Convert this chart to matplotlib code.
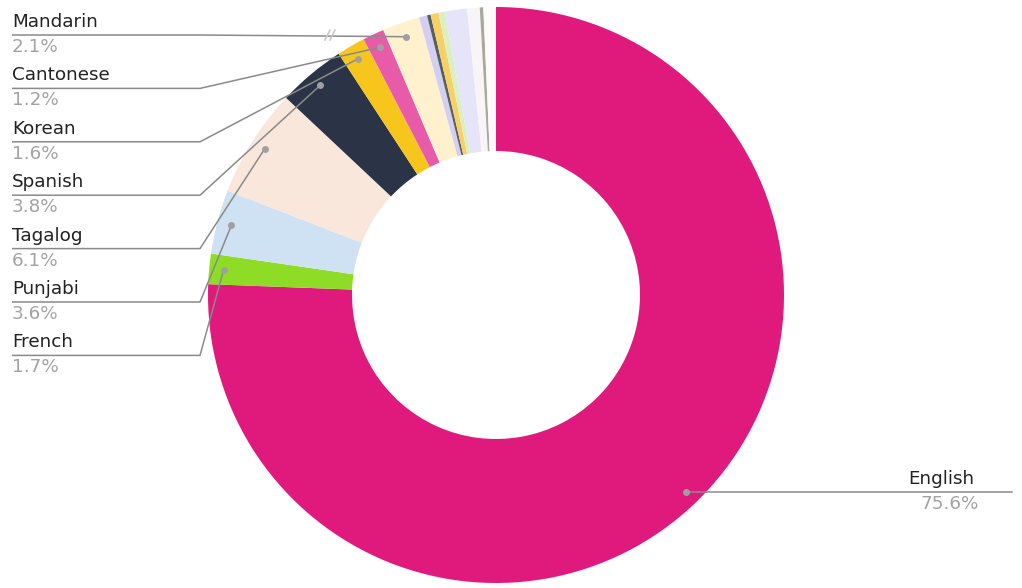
import numpy as np
import matplotlib
matplotlib.use("Agg")
import matplotlib.pyplot as plt

# mother tongue shares, clockwise from 12 o'clock
languages = ["English", "French", "Punjabi", "Tagalog", "Spanish", "Korean",
             "Cantonese", "Mandarin", "Persian", "Russian", "Hindi",
             "Vietnamese", "German", "Italian", "Polish", "Other"]
shares = [75.6, 1.7, 3.6, 6.1, 3.8, 1.6, 1.2, 2.1,
          0.45, 0.2, 0.45, 0.35, 1.25, 0.7, 0.2, 0.7]
colors = ["#e0197d", "#8edc26", "#cfe2f3", "#f9e7dc", "#2b3447", "#f6c61d",
          "#e85ba8", "#fff1cd", "#d2cff2", "#56605f", "#f7d067", "#daf0c1",
          "#e6e4f8", "#f8f4f7", "#aaa9a0", "#fdfaf7"]

# labelled slices listed down the left column
left_labels = ["Mandarin", "Cantonese", "Korean", "Spanish", "Tagalog",
               "Punjabi", "French"]
pct_labels = ["2.1%", "1.2%", "1.6%", "3.8%", "6.1%", "3.6%", "1.7%"]

W, H = 1022, 588
cx, cy, R = 496, 295, 288

fig = plt.figure(figsize=(W / 100, H / 100), dpi=100)
ax = fig.add_axes([0, 0, 1, 1])

def fy(y):
    return H - y

ax.pie(shares, colors=colors, startangle=90, counterclock=False,
       radius=R, center=(cx, fy(cy)),
       wedgeprops=dict(width=R / 2, linewidth=0))
ax.set_xlim(0, W)
ax.set_ylim(0, H)
ax.set_aspect("equal")
ax.axis("off")

# anchor point on each slice: mid angle, just inside the outer rim
cum = np.cumsum([0] + shares)
mid = (cum[:-1] + cum[1:]) / 2 / 100 * 2 * np.pi
r_dot = 0.95 * R
dots = {lang: (cx + r_dot * np.sin(a), cy - r_dot * np.cos(a))
        for lang, a in zip(languages, mid)}

line_c = "#8a8a8a"
dot_c = "#a0a0a0"
name_c = "#222222"
pct_c = "#a3a3a3"
font = "DejaVu Sans"
fs = 13.2

step = 53.4
for i, (lab, pct) in enumerate(zip(left_labels, pct_labels)):
    y_u = 35 + i * step
    ax.text(12, fy(y_u - 4), lab, fontsize=fs, color=name_c, family=font,
            ha="left", va="bottom")
    ax.text(12, fy(y_u + 3), pct, fontsize=fs, color=pct_c, family=font,
            ha="left", va="top")
    dx, dy = dots[lab]
    ax.plot([12, 200, dx], [fy(y_u), fy(y_u), fy(dy)], color=line_c, lw=1.1,
            solid_capstyle="butt")
    ax.plot(dx, fy(dy), "o", ms=5, color=dot_c, mec="none")

# small break mark on the long Mandarin leader
for x0 in (325, 330):
    ax.plot([x0, x0 + 5], [fy(40), fy(30)], color="#c8c8c8", lw=1.2)

# English label on the right
ex, ey = dots["English"]
ax.plot([ex, 1012], [fy(ey), fy(ey)], color=line_c, lw=1.1)
ax.plot(ex, fy(ey), "o", ms=5, color=dot_c, mec="none")
ax.text(908, fy(ey - 4), "English", fontsize=fs, color=name_c, family=font,
        ha="left", va="bottom")
ax.text(920, fy(ey + 3), "75.6%", fontsize=fs, color=pct_c, family=font,
        ha="left", va="top")

fig.savefig("out.png", dpi=100)
